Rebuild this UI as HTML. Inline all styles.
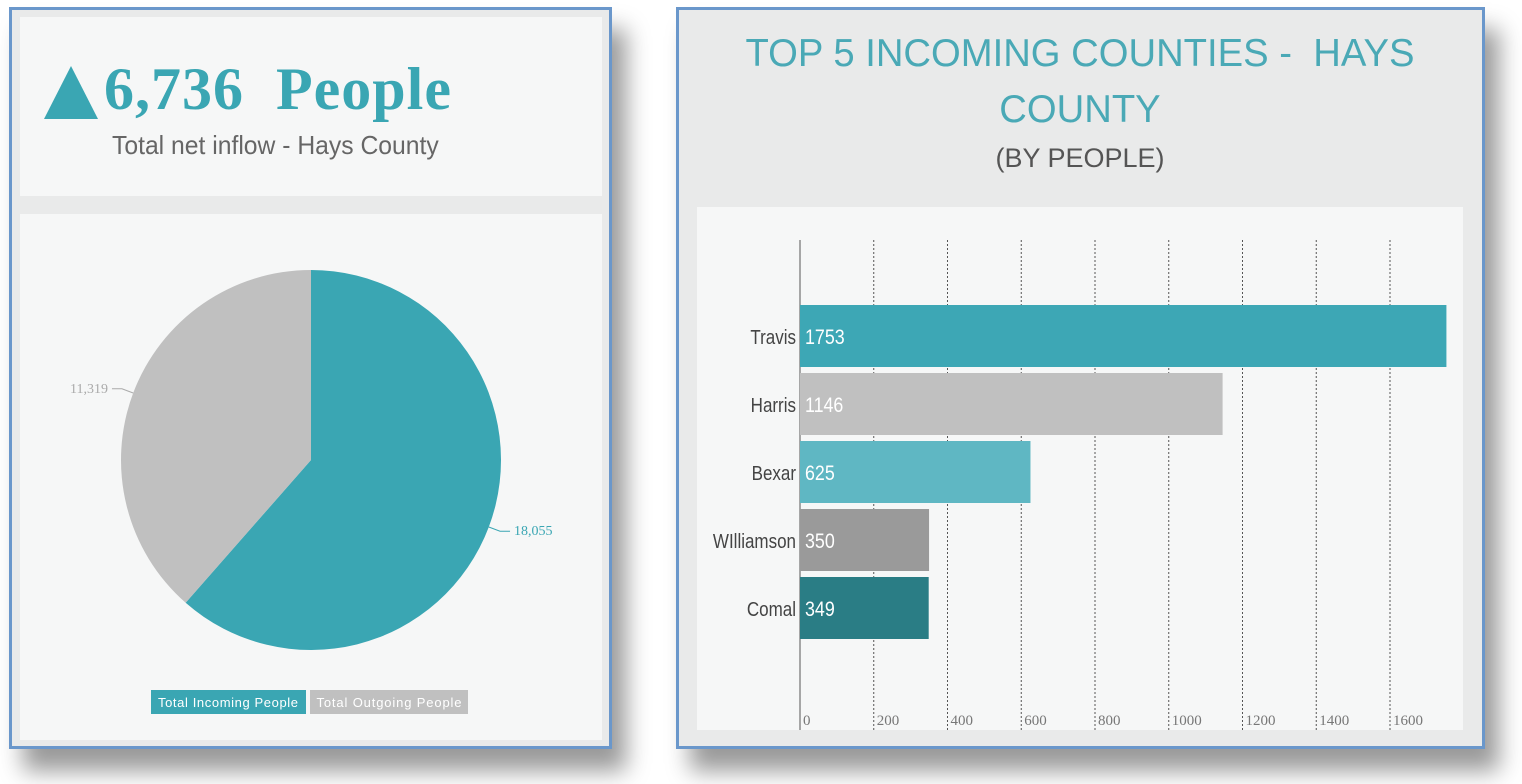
<!DOCTYPE html>
<html><head><meta charset="utf-8">
<style>
body{margin:0;width:1522px;height:784px;background:#fff;position:relative;overflow:hidden;font-family:"Liberation Sans",sans-serif}
.panel{position:absolute;border:3px solid #6a97cb;background:#e9eaea;box-shadow:14px 22px 22px rgba(0,0,0,0.4)}
.inner{position:absolute;background:#f6f7f7}
</style></head><body>
<div class="panel" style="left:9px;top:7px;width:597px;height:736px"></div>
<div class="inner" style="left:20px;top:17px;width:582px;height:179px"></div>
<div class="inner" style="left:20px;top:214px;width:582px;height:526px"></div>
<div style="position:absolute;left:44px;top:66px;width:0;height:0;border-left:27px solid transparent;border-right:27px solid transparent;border-bottom:53px solid #3aa6b3"></div>
<div style="position:absolute;left:104px;top:55px;font-family:'Liberation Serif',serif;font-weight:bold;font-size:60px;letter-spacing:1px;color:#3aa6b3;white-space:nowrap">6,736&nbsp; People</div>
<div style="position:absolute;left:112px;top:130px;font-size:26px;color:#666;white-space:nowrap;transform:scaleX(0.95);transform-origin:left">Total net inflow - Hays County</div>

<svg style="position:absolute;left:0;top:0" width="620" height="784">
<g id="pie"></g>
<rect x="151" y="690" width="155" height="24" fill="#3aa6b3"/>
<text x="228" y="707" text-anchor="middle" font-size="13" fill="#fff" font-family="Liberation Sans" textLength="140">Total Incoming People</text>
<rect x="310" y="690" width="158" height="24" fill="#c0c0c0"/>
<text x="389" y="707" text-anchor="middle" font-size="13" fill="#fff" font-family="Liberation Sans" textLength="145">Total Outgoing People</text>
</svg>

<div class="panel" style="left:676px;top:7px;width:803px;height:736px"></div>
<div style="position:absolute;left:680px;top:26px;width:800px;text-align:center;font-size:39px;line-height:56px;color:#4aa9b6;transform:scaleX(0.98);">TOP 5 INCOMING COUNTIES -&nbsp; HAYS<br>COUNTY</div>
<div style="position:absolute;left:680px;top:143px;width:800px;text-align:center;font-size:27px;color:#555">(BY PEOPLE)</div>
<div class="inner" style="left:697px;top:207px;width:766px;height:523px"></div>
<svg style="position:absolute;left:0;top:0" width="1522" height="784"><g id="bars"></g></svg>

<script>
const pieLabels=["Total Incoming People","Total Outgoing People"];
const pieValues=[18055,11319];
const pieText=["18,055","11,319"];
const categories=["Travis","Harris","Bexar","WIlliamson","Comal"];
const values=[1753,1146,625,350,349];
const ticks=[0,200,400,600,800,1000,1200,1400,1600];
const NS="http://www.w3.org/2000/svg";
function mk(t,a,p){const e=document.createElementNS(NS,t);for(const k in a)e.setAttribute(k,a[k]);p.appendChild(e);return e;}
const pg=document.getElementById('pie');
const cx=311,cy=460,R=190,tot=pieValues.reduce((a,b)=>a+b,0);
const pcol=["#3aa6b3","#c0c0c0"],lcol=["#3aa6b3","#aaa"];
let a0=0;
pieValues.forEach((v,i)=>{
 const a1=a0+v/tot*2*Math.PI;
 const p=(a)=>[cx+R*Math.sin(a),cy-R*Math.cos(a)];
 const s=p(a0),e=p(a1),lg=(a1-a0)>Math.PI?1:0;
 const sl=mk('path',{d:`M${cx},${cy}L${s[0]},${s[1]}A${R},${R} 0 ${lg} 1 ${e[0]},${e[1]}Z`,fill:pcol[i]},pg);
 
 
 const m=(a0+a1)/2, q=[cx+R*Math.sin(m),cy-R*Math.cos(m)], q2=[cx+(R+12)*Math.sin(m),cy-(R+12)*Math.cos(m)];
 const right=Math.sin(m)>0, q3=[q2[0]+(right?10:-10),q2[1]];
 mk('polyline',{points:`${q[0]},${q[1]} ${q2[0]},${q2[1]} ${q3[0]},${q3[1]}`,fill:'none',stroke:lcol[i],'stroke-width':1},pg);
 const t=mk('text',{x:q3[0]+(right?4:-4),y:q3[1]+4,'text-anchor':right?'start':'end','font-size':14,fill:lcol[i],'font-family':'Liberation Serif'},pg);
 t.textContent=pieText[i];
 
 
 a0=a1;
});
const bg=document.getElementById('bars');
const x0=800,sx=(1390-800)/1600;
const X=v=>x0+v*sx;
const bcol=["#3da7b5","#c0c0c0","#5fb7c3","#9a9a9a","#2a7d85"];
ticks.forEach(t=>{
 if(t>0){const l=mk('line',{x1:X(t),x2:X(t),y1:240,y2:730,stroke:'#555','stroke-width':1,'stroke-dasharray':'2,2'},bg);
 }
 const tx=mk('text',{x:X(t)+3,y:725,'font-size':15,fill:'#777','font-family':'Liberation Serif'},bg);
 tx.textContent=t;
 
 
});
const ax=mk('line',{x1:x0,x2:x0,y1:240,y2:730,stroke:'#555','stroke-width':1},bg);


categories.forEach((c,i)=>{
 const y=305+i*68;
 const r=mk('rect',{x:x0,y:y,width:X(values[i])-x0,height:62,fill:bcol[i]},bg);
 
 
 const v=mk('text',{x:x0+5,y:y+39,'font-size':21,fill:'#fff','font-family':'Liberation Sans','transform':`translate(${x0+5},0) scale(0.85,1) translate(${-(x0+5)},0)`},bg);
 v.textContent=values[i];
 
 
 const l=mk('text',{x:x0-4,y:y+39,'text-anchor':'end','font-size':20,fill:'#444','font-family':'Liberation Sans','transform':`translate(${x0-4},0) scale(0.85,1) translate(${-(x0-4)},0)`},bg);
 l.textContent=c;
 
 
});
</script>
</body></html>
